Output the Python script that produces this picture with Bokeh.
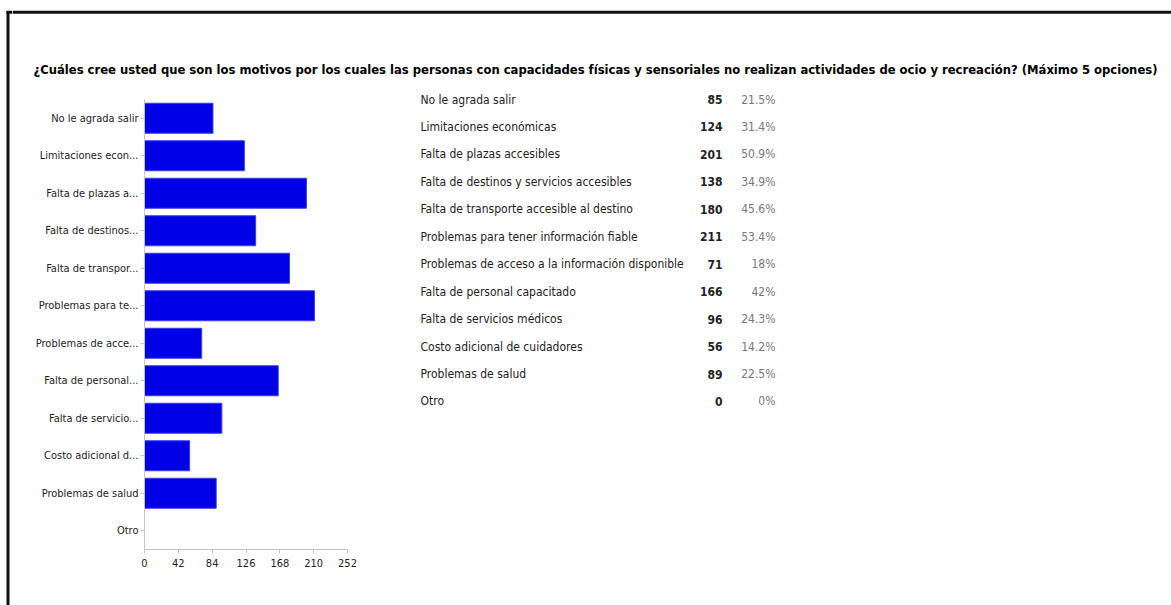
from bokeh.plotting import figure
from bokeh.layouts import row, column
from bokeh.models import FactorRange, Range1d, FixedTicker, ColumnDataSource
from bokeh.core.properties import value
from bokeh.embed import file_html
from bokeh.resources import INLINE

title_text = ("¿Cuáles cree usted que son los motivos por los cuales las personas con "
              "capacidades físicas y sensoriales no realizan actividades de ocio y "
              "recreación? (Máximo 5 opciones)")

categories = [
    "No le agrada salir",
    "Limitaciones económicas",
    "Falta de plazas accesibles",
    "Falta de destinos y servicios accesibles",
    "Falta de transporte accesible al destino",
    "Problemas para tener información fiable",
    "Problemas de acceso a la información disponible",
    "Falta de personal capacitado",
    "Falta de servicios médicos",
    "Costo adicional de cuidadores",
    "Problemas de salud",
    "Otro",
]
axis_labels = [
    "No le agrada salir",
    "Limitaciones econ...",
    "Falta de plazas a...",
    "Falta de destinos...",
    "Falta de transpor...",
    "Problemas para te...",
    "Problemas de acce...",
    "Falta de personal...",
    "Falta de servicio...",
    "Costo adicional d...",
    "Problemas de salud",
    "Otro",
]
counts = [85, 124, 201, 138, 180, 211, 71, 166, 96, 56, 89, 0]
percents = ["21.5%", "31.4%", "50.9%", "34.9%", "45.6%", "53.4%",
            "18%", "42%", "24.3%", "14.2%", "22.5%", "0%"]
x_ticks = [0, 42, 84, 126, 168, 210, 252]

FONT = "DejaVu Sans Condensed, Liberation Sans Narrow, sans-serif"
TXT = "#222222"
BORDER = "#111111"

WIN_W, WIN_H = 1171, 605
LEFT_W = 12          # strip holding the left frame line
TITLE_H = 85         # height of the title band
BAR_W = 400 - LEFT_W


def blank(width, height, x0, x1, y0, y1):
    f = figure(width=width, height=height, output_backend="svg", toolbar_location=None,
               x_range=Range1d(x0, x1), y_range=Range1d(y1, y0),
               x_axis_location=None, y_axis_location=None,
               min_border=0, min_border_left=0, min_border_right=0,
               min_border_top=0, min_border_bottom=0)
    f.outline_line_color = None
    f.grid.grid_line_color = None
    f.border_fill_color = "white"
    f.background_fill_color = "white"
    f.frame_align = False
    return f


# left frame strip
strip = blank(LEFT_W, WIN_H, 0, LEFT_W, 0, WIN_H)
strip.segment(x0=[7.5, 6], y0=[10.5, 11.7], x1=[7.5, LEFT_W], y1=[WIN_H, 11.7],
              line_color=BORDER, line_width=3)

# title band
title_fig = blank(WIN_W - LEFT_W, TITLE_H, LEFT_W, WIN_W, 0, TITLE_H)
title_fig.segment(x0=[LEFT_W], y0=[11.7], x1=[WIN_W], y1=[11.7],
                  line_color=BORDER, line_width=3)
title_fig.text(x=[33], y=[69], text=[title_text], text_font=value(FONT),
               text_font_size="12.9px", text_font_style="bold", text_color="#000000",
               text_align="left", text_baseline="middle")

# bar chart
B_H = WIN_H - TITLE_H
F_LEFT, F_TOP, PW, PH = 144 - LEFT_W, 99 - TITLE_H, 203, 450
bars = figure(width=BAR_W, height=B_H, output_backend="svg", toolbar_location=None,
              y_range=FactorRange(factors=list(reversed(axis_labels))),
              x_range=Range1d(0, 252),
              min_border_left=F_LEFT, min_border_right=BAR_W - F_LEFT - PW,
              min_border_top=F_TOP, min_border_bottom=B_H - F_TOP - PH)
bars.frame_align = False
bars.outline_line_color = None
bars.grid.grid_line_color = None
src = ColumnDataSource(dict(y=axis_labels, right=counts))
bars.hbar(y="y", right="right", left=0, height=0.8, source=src,
          fill_color="#0000e6", line_color="#3c3cee", line_width=1)
for ax in (bars.xaxis[0], bars.yaxis[0]):
    ax.axis_line_color = "#c4c4c4"
    ax.major_tick_line_color = "#c4c4c4"
    ax.major_tick_out = 4
    ax.major_tick_in = 0
    ax.minor_tick_line_color = None
    ax.major_label_text_font = FONT
    ax.major_label_text_font_size = "11px"
    ax.major_label_text_color = TXT
bars.xaxis[0].ticker = FixedTicker(ticks=x_ticks)
bars.xaxis[0].major_label_standoff = 5
bars.yaxis[0].major_label_standoff = 2

# table
T_X0 = 400
table = blank(WIN_W - T_X0, B_H, T_X0, WIN_W, TITLE_H, WIN_H)
n = len(categories)
row_y = [99 + 27.45 * i for i in range(n)]
tsrc = ColumnDataSource(dict(cat=categories, cnt=[str(c) for c in counts], pct=percents,
                             y=row_y, xl=[420] * n, xc=[722] * n, xp=[775] * n))
table.text(x="xl", y="y", text="cat", source=tsrc, text_font=value(FONT),
           text_font_size="12px", text_color=TXT, text_align="left",
           text_baseline="middle")
table.text(x="xc", y="y", text="cnt", source=tsrc, text_font=value(FONT),
           text_font_size="12px", text_font_style="bold", text_color=TXT,
           text_align="right", text_baseline="middle")
table.text(x="xp", y="y", text="pct", source=tsrc, text_font=value(FONT),
           text_font_size="12px", text_color="#777777", text_align="right",
           text_baseline="middle")

layout = row(strip, column(title_fig, row(bars, table)))
open("out.html", "w").write(file_html(layout, INLINE))
